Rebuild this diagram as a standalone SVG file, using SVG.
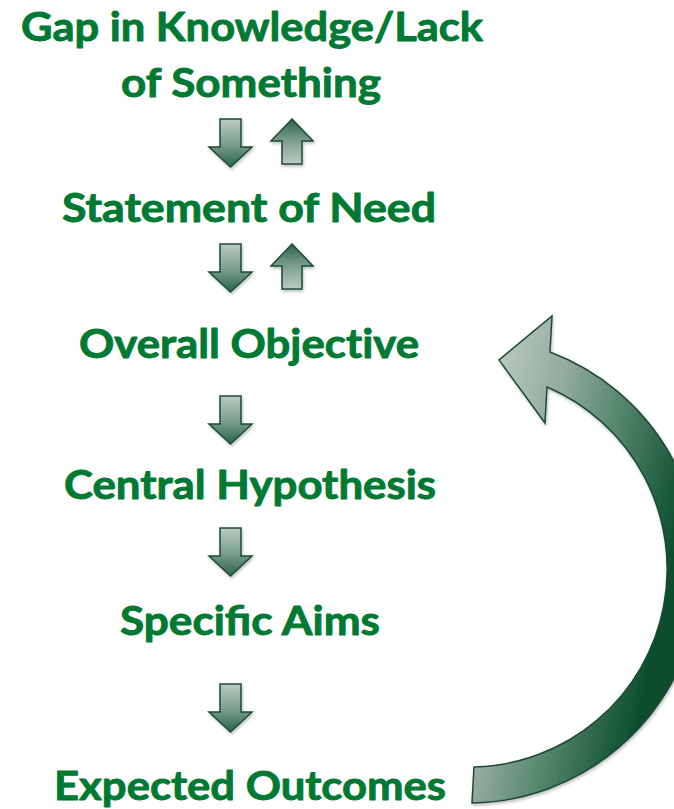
<svg xmlns="http://www.w3.org/2000/svg" xmlns:xlink="http://www.w3.org/1999/xlink" width="674" height="809" viewBox="0 0 674 809">
  <style>
    .lbl { font-family: Lato, "Open Sans", "Liberation Sans", sans-serif; font-weight: bold; font-size: 40px; fill: #007a33; stroke: #007a33; stroke-width: 0.9; stroke-linejoin: round; text-anchor: middle; }
    .noliga { font-variant-ligatures: none; }
    .arr { stroke: #1e4a35; stroke-width: 1.5; stroke-linejoin: miter; filter: url(#shadow); }
    .down { fill: url(#gDown); }
    .up { fill: url(#gUp); }
    .big { fill: url(#gBig); }
  </style>
  <defs>
    <linearGradient id="gDown" x1="0" y1="0" x2="0" y2="1">
      <stop offset="0" stop-color="#bccbc3"/>
      <stop offset="0.5" stop-color="#7fa08f"/>
      <stop offset="1" stop-color="#2a654a"/>
    </linearGradient>
    <linearGradient id="gUp" x1="0" y1="1" x2="0" y2="0">
      <stop offset="0" stop-color="#bccbc3"/>
      <stop offset="0.5" stop-color="#7fa08f"/>
      <stop offset="1" stop-color="#2a654a"/>
    </linearGradient>
    <linearGradient id="gBig" gradientUnits="userSpaceOnUse" x1="489" y1="358" x2="706" y2="405">
      <stop offset="0" stop-color="#bdcdc4"/>
      <stop offset="0.35" stop-color="#93aa9d"/>
      <stop offset="0.6" stop-color="#5a8a72"/>
      <stop offset="1" stop-color="#0b4e2e"/>
    </linearGradient>
    <filter id="shadow" x="-20%" y="-20%" width="140%" height="140%">
      <feDropShadow dx="1" dy="2" stdDeviation="1.5" flood-color="#000" flood-opacity="0.25"/>
    </filter>
    <path id="downArrow" d="M-10.5,0 H10.5 V28 H21.5 L0,48 L-21.5,28 H-10.5 Z"/>
    <path id="upArrow" d="M0,0 L21,22 H10 V45 H-10 V22 H-21 Z"/>
  </defs>

  <g id="connectors">
    <use href="#downArrow" xlink:href="#downArrow" class="arr down" transform="translate(230.5,119)"/>
    <use href="#upArrow" xlink:href="#upArrow" class="arr up" transform="translate(292,119)"/>
    <use href="#downArrow" xlink:href="#downArrow" class="arr down" transform="translate(230.5,244)"/>
    <use href="#upArrow" xlink:href="#upArrow" class="arr up" transform="translate(292,244)"/>
    <use href="#downArrow" xlink:href="#downArrow" class="arr down" transform="translate(230.5,396)"/>
    <use href="#downArrow" xlink:href="#downArrow" class="arr down" transform="translate(230.5,528)"/>
    <use href="#downArrow" xlink:href="#downArrow" class="arr down" transform="translate(230.5,684)"/>
    <path id="feedback" class="arr big" d="M550,352 A233,233 0 0 1 472,803 L474,767 A198,198 0 0 0 547,387 L545,423 L499,360 L552,316 Z"/>
  </g>

  <g id="gap">
    <text class="lbl" x="252" y="41" textLength="462" lengthAdjust="spacingAndGlyphs">Gap in Knowledge/Lack</text>
    <text class="lbl" x="251" y="97" textLength="260" lengthAdjust="spacingAndGlyphs">of Something</text>
  </g>
  <g id="statement">
    <text class="lbl" x="249" y="222" textLength="374" lengthAdjust="spacingAndGlyphs">Statement of Need</text>
  </g>
  <g id="objective">
    <text class="lbl noliga" x="249" y="358" textLength="340" lengthAdjust="spacingAndGlyphs">Overall Objective</text>
  </g>
  <g id="hypothesis">
    <text class="lbl" x="250" y="499" textLength="372" lengthAdjust="spacingAndGlyphs">Central Hypothesis</text>
  </g>
  <g id="aims">
    <text class="lbl" x="250" y="635" textLength="260" lengthAdjust="spacingAndGlyphs">Specific Aims</text>
  </g>
  <g id="outcomes">
    <text class="lbl" x="250" y="800" textLength="392" lengthAdjust="spacingAndGlyphs">Expected Outcomes</text>
  </g>
</svg>
